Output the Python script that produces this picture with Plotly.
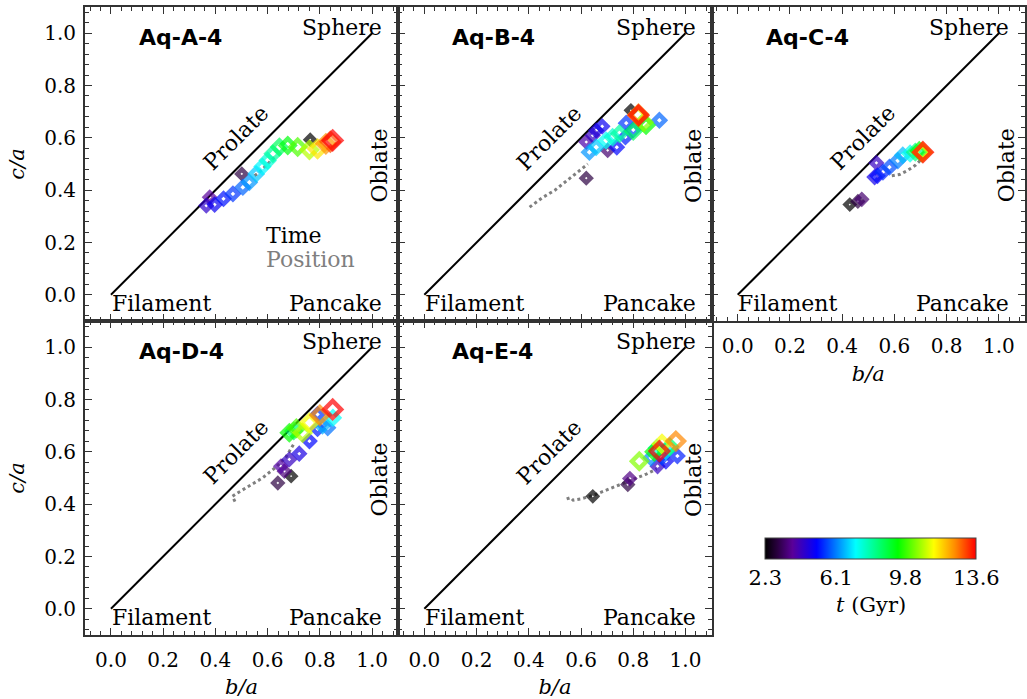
import plotly.graph_objects as go

W, H = 1027, 699

# ---------------- data ----------------
names = ["Aq-A-4", "Aq-B-4", "Aq-C-4", "Aq-D-4", "Aq-E-4"]

ba_A = [0.763, 0.501, 0.378, 0.365, 0.397, 0.431, 0.467, 0.505, 0.530, 0.556, 0.580, 0.600, 0.620, 0.645, 0.677, 0.715, 0.760, 0.791, 0.823, 0.840, 0.849]
ca_A = [0.593, 0.462, 0.373, 0.341, 0.345, 0.367, 0.386, 0.411, 0.430, 0.462, 0.490, 0.513, 0.539, 0.565, 0.571, 0.565, 0.554, 0.558, 0.577, 0.585, 0.590]
t_A  = [2.3, 3.0, 3.8, 4.4, 4.9, 5.2, 5.5, 5.9, 6.3, 6.7, 7.1, 7.5, 8.0, 8.6, 9.3, 10.0, 10.8, 11.6, 12.4, 13.0, 13.6]

ba_B = [0.791, 0.620, 0.702, 0.620, 0.645, 0.658, 0.681, 0.737, 0.770, 0.773, 0.800, 0.900, 0.632, 0.658, 0.696, 0.721, 0.747, 0.800, 0.849, 0.840, 0.817, 0.820, 0.820]
ca_B = [0.705, 0.446, 0.552, 0.584, 0.609, 0.628, 0.644, 0.564, 0.603, 0.656, 0.631, 0.667, 0.545, 0.564, 0.590, 0.603, 0.616, 0.625, 0.648, 0.660, 0.686, 0.690, 0.686]
t_B  = [2.3, 3.0, 3.4, 4.0, 4.3, 4.6, 4.9, 5.1, 5.3, 5.5, 5.7, 5.9, 6.3, 6.7, 7.2, 7.6, 8.0, 8.6, 9.4, 10.4, 11.3, 12.5, 13.6]

ba_C = [0.429, 0.460, 0.475, 0.531, 0.524, 0.535, 0.556, 0.581, 0.613, 0.632, 0.660, 0.680, 0.695, 0.705, 0.709, 0.709]
ca_C = [0.345, 0.357, 0.365, 0.504, 0.450, 0.455, 0.469, 0.488, 0.513, 0.533, 0.540, 0.545, 0.550, 0.545, 0.545, 0.545]
t_C  = [2.3, 3.0, 3.4, 4.3, 4.8, 5.1, 5.4, 5.7, 6.1, 6.6, 7.3, 8.3, 9.4, 10.8, 11.6, 13.6]

ba_D = [0.690, 0.639, 0.664, 0.651, 0.683, 0.721, 0.760, 0.791, 0.791, 0.830, 0.810, 0.850, 0.700, 0.683, 0.710, 0.734, 0.760, 0.800, 0.849]
ca_D = [0.507, 0.481, 0.526, 0.545, 0.571, 0.593, 0.641, 0.688, 0.743, 0.692, 0.700, 0.730, 0.680, 0.673, 0.690, 0.673, 0.711, 0.740, 0.762]
t_D  = [2.3, 3.0, 3.5, 3.9, 4.3, 4.7, 5.1, 5.3, 5.5, 6.0, 6.5, 7.2, 8.5, 9.4, 10.0, 10.8, 11.3, 12.5, 13.6]

ba_E = [0.645, 0.779, 0.787, 0.893, 0.925, 0.969, 0.910, 0.868, 0.925, 0.890, 0.940, 0.880, 0.823, 0.910, 0.963, 0.900]
ca_E = [0.430, 0.475, 0.498, 0.545, 0.564, 0.584, 0.580, 0.577, 0.603, 0.615, 0.620, 0.600, 0.564, 0.630, 0.641, 0.603]
t_E  = [2.3, 3.0, 3.6, 4.3, 5.0, 5.3, 5.6, 6.2, 7.0, 7.6, 8.5, 9.4, 10.4, 11.3, 12.5, 13.6]

pos_ba_A = [0.55, 0.57, 0.59, 0.61, 0.63]
pos_ca_A = [0.455, 0.47, 0.49, 0.51, 0.53]
pos_ba_B = [0.403, 0.45, 0.50, 0.55, 0.60, 0.626]
pos_ca_B = [0.335, 0.37, 0.40, 0.44, 0.48, 0.50]
pos_ba_C = [0.59, 0.62, 0.65, 0.68, 0.70]
pos_ca_C = [0.455, 0.46, 0.475, 0.495, 0.515]
pos_ba_D = [0.475, 0.465, 0.48, 0.53, 0.58, 0.63, 0.67, 0.70]
pos_ca_D = [0.41, 0.43, 0.44, 0.47, 0.50, 0.54, 0.58, 0.63]
pos_ba_E = [0.545, 0.56, 0.57, 0.60, 0.65, 0.70, 0.75, 0.80, 0.85, 0.89]
pos_ca_E = [0.42, 0.425, 0.415, 0.42, 0.435, 0.455, 0.475, 0.495, 0.515, 0.535]

cbar_ticks = [2.3, 6.1, 9.8, 13.6]
t_min, t_max = 2.3, 13.6

panels = [
    (ba_A, ca_A, t_A, pos_ba_A, pos_ca_A),
    (ba_B, ca_B, t_B, pos_ba_B, pos_ca_B),
    (ba_C, ca_C, t_C, pos_ba_C, pos_ca_C),
    (ba_D, ca_D, t_D, pos_ba_D, pos_ca_D),
    (ba_E, ca_E, t_E, pos_ba_E, pos_ca_E),
]

# ---------------- style ----------------
SERIF = "DejaVu Serif"
rainbow = [
    [0.0, "#000000"], [0.06, "#2a0040"], [0.13, "#5a0098"], [0.245, "#0000ff"],
    [0.43, "#00ffff"], [0.63, "#00ff00"], [0.8, "#ffff00"], [0.9, "#ff8c00"], [1.0, "#ff0000"],
]

# panel pixel boxes: (left, top)
boxes = [(85, 7), (399, 7), (713, 7), (85, 321), (399, 321)]
PW, PH = 314, 314
show_x = [False, False, True, True, True]
show_y = [True, False, False, True, False]

fig = go.Figure()
layout = dict(
    width=W, height=H, margin=dict(l=0, r=0, t=0, b=0),
    paper_bgcolor="white", plot_bgcolor="white", showlegend=False,
    font=dict(family=SERIF, size=20, color="black"),
    coloraxis=dict(
        colorscale=rainbow, cmin=t_min, cmax=t_max,
        colorbar=dict(
            orientation="h", x=872.5 / W, xanchor="center", y=1 - 528 / H, yanchor="top",
            len=231, lenmode="pixels", thickness=21, thicknessmode="pixels",
            outlinewidth=1, outlinecolor="#444",
            tickvals=cbar_ticks, ticktext=[f"{v:.1f}" for v in cbar_ticks],
            ticks="", tickfont=dict(family=SERIF, size=21),
        ),
    ),
)
annotations = [dict(text="<i>t</i> (Gyr)", x=872.5 / W, y=1 - 605 / H, xref="paper", yref="paper",
                    showarrow=False, xanchor="center", yanchor="middle",
                    font=dict(family=SERIF, size=21, color="black"))]

for i, (bx, cy, tt, px, py) in enumerate(panels):
    k = "" if i == 0 else str(i + 1)
    xa, ya = "x" + k, "y" + k
    left, top = boxes[i]
    axis_common = dict(
        range=[-0.1, 1.1], dtick=0.2, tick0=0, ticks="inside", ticklen=7, tickwidth=1,
        tickcolor="#333", showline=True, linecolor="#333", linewidth=1.5, mirror="allticks",
        showgrid=False, zeroline=False, tickformat=".1f",
        minor=dict(dtick=0.04, tick0=0, ticks="inside", ticklen=4, tickcolor="#333", showgrid=False),
        tickfont=dict(family=SERIF, size=20),
    )
    layout["xaxis" + k] = dict(
        axis_common, domain=[left / W, (left + PW) / W], anchor=ya,
        showticklabels=show_x[i], ticklabelstandoff=6,
        title=dict(text="<i>b/a</i>", font=dict(family=SERIF, size=21), standoff=10) if show_x[i] else None,
    )
    layout["yaxis" + k] = dict(
        axis_common, domain=[1 - (top + PH) / H, 1 - top / H], anchor=xa,
        showticklabels=show_y[i], ticklabelstandoff=3,
        title=dict(text="<i>c/a</i>", font=dict(family=SERIF, size=21), standoff=14) if show_y[i] else None,
    )

    # y = x line
    fig.add_trace(go.Scatter(x=[0, 1], y=[0, 1], mode="lines", line=dict(color="black", width=2),
                             xaxis=xa, yaxis=ya, hoverinfo="skip"))
    # position trail
    fig.add_trace(go.Scatter(x=px, y=py, mode="lines", line=dict(color="#7f7f7f", width=3, dash="dot"),
                             xaxis=xa, yaxis=ya, hoverinfo="skip"))
    # time markers
    sizes = [6.5 + 6.5 * (t - t_min) / (t_max - t_min) for t in tt]
    fig.add_trace(go.Scatter(
        x=bx, y=cy, mode="markers", xaxis=xa, yaxis=ya,
        marker=dict(symbol="diamond-open", size=sizes, color=tt, coloraxis="coloraxis",
                    line=dict(width=4.5)),
    ))

    def ann(text, x, y, **kw):
        d = dict(text=text, x=x, y=y, xref=xa, yref=ya, showarrow=False,
                 font=dict(family=SERIF, size=22, color="black"))
        d.update(kw)
        annotations.append(d)

    ann("<b>" + names[i] + "</b>", 0.10, 0.985, xanchor="left", yanchor="middle",
        font=dict(family="DejaVu Sans", size=22, color="black"))
    ann("Sphere", 1.047, 1.022, xanchor="right", yanchor="middle")
    ann("Filament", -0.005, -0.035, xanchor="left", yanchor="middle")
    ann("Pancake", 1.047, -0.035, xanchor="right", yanchor="middle")
    ann("Prolate", 0.48, 0.60, xanchor="center", yanchor="middle", textangle=-45)
    ann("Oblate", 1.03, 0.494, xanchor="center", yanchor="middle", textangle=-90)
    if i == 0:
        ann("Time", 0.585, 0.226, xanchor="left", yanchor="middle")
        ann("Position", 0.585, 0.136, xanchor="left", yanchor="middle",
            font=dict(family=SERIF, size=22, color="#7f7f7f"))

layout["annotations"] = annotations
fig.update_layout(**layout)
fig.write_html("out.html")
